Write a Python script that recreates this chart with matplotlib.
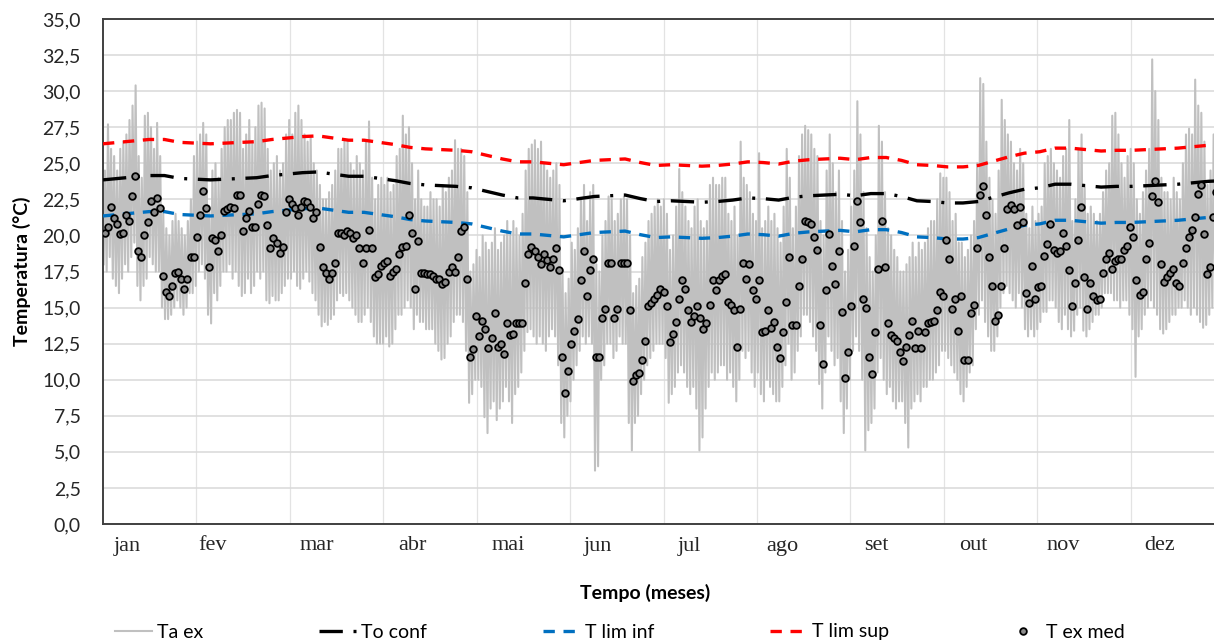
import numpy as np
import matplotlib
matplotlib.use("Agg")
from matplotlib import rcParams

rcParams['font.family'] = ['Lato', 'DejaVu Sans']
from matplotlib import pyplot as plt

# T ex med - daily mean outdoor temperature (one value per day)
t_ex_med = [
    # jan
    20.2, 20.6, 22.0, 21.2, 20.8, 20.1, 20.2, 21.4, 21.0, 22.7, 24.1, 18.9, 18.5, 20.0, 20.9,
    22.4, 21.6, 22.6, 21.9, 17.2, 16.1, 15.8, 16.5, 17.4, 17.5, 17.0, 16.3, 17.0, 18.5, 18.5,
    # feb / early mar
    19.9, 21.4, 23.1, 21.9, 17.8, 19.8, 19.7, 18.9, 20.0, 21.7, 21.8, 22.0, 21.9, 22.8, 22.8,
    20.3, 21.2, 21.7, 20.6, 20.6, 22.2, 22.8, 22.7, 20.7, 19.1, 19.8, 19.5, 18.8, 19.2, 21.6, 22.5,
    # mar - apr
    22.2, 21.9, 21.4, 22.0, 22.4, 22.3, 22.0, 21.2, 21.6, 19.2, 17.8, 17.4, 17.0, 17.4, 18.1,
    20.2, 20.2, 20.0, 20.3, 20.2, 19.8, 20.0, 19.1, 18.1, 19.1, 20.4, 19.1, 17.1, 17.3, 17.9,
    18.1, 18.2, 17.2, 17.5, 17.7, 18.7, 19.2, 19.3, 21.4, 20.2, 16.3, 19.6, 17.4, 17.4, 17.3,
    17.3, 17.2, 17.0, 17.0, 16.6, 16.8, 17.5, 17.8, 17.5, 18.5, 20.3, 20.6, 17.0, 11.6, 12.1, 14.4,
    # may - jun
    13.0, 14.1, 13.5, 12.2, 12.9, 14.6, 12.3, 12.5, 11.8, 13.9, 13.1, 13.2, 13.9, 13.9, 13.9,
    16.7, 18.7, 19.2, 18.9, 18.5, 18.0, 18.7, 18.3, 17.8, 18.4, 19.1, 17.6, 11.6, 9.05, 10.6,
    12.5, 13.4, 14.2, 16.9, 18.9, 15.8, 17.6, 18.4, 11.6, 11.6, 14.3, 14.9, 18.1, 18.1, 14.3,
    14.9, 18.1, 18.1, 18.1, 14.8, 9.9, 10.3, 10.5, 11.4, 12.7, 15.1, 15.3, 15.6, 15.9, 16.3, 16.1, 15.1,
    # jul - aug
    12.6, 13.2, 14.0, 15.6, 16.9, 16.3, 14.8, 14.0, 14.4, 15.1, 14.3, 13.5, 13.9, 15.2, 16.9,
    16.2, 16.9, 17.2, 17.3, 15.4, 15.2, 14.8, 12.3, 14.9, 18.1, 17.0, 18.0, 16.2, 15.6, 16.9,
    13.3, 13.4, 14.8, 13.6, 14.0, 12.3, 11.5, 13.3, 15.4, 18.5, 13.8, 13.8, 16.5, 18.4, 21.0,
    20.9, 20.8, 19.9, 19.0, 13.8, 11.1, 16.2, 20.1, 17.9, 16.6, 18.9, 14.7, 10.1, 11.9, 15.1, 19.3,
    # sep - oct
    22.4, 20.9, 15.6, 15.0, 11.6, 10.4, 13.3, 17.7, 21.0, 17.8, 13.9, 13.1, 12.9, 12.7, 11.9,
    11.3, 12.3, 13.1, 14.1, 12.2, 13.4, 12.2, 13.3, 13.9, 14.0, 14.1, 14.8, 16.1, 15.8, 19.7,
    18.4, 14.9, 15.6, 13.4, 15.8, 11.4, 11.4, 14.6, 15.2, 19.1, 22.8, 23.4, 21.4, 18.5, 16.5,
    14.1, 14.5, 16.5, 19.1, 21.8, 22.1, 21.8, 20.7, 22.0, 20.9, 16.0, 15.3, 17.9, 15.6, 16.4, 16.5,
    # nov - dec
    18.6, 19.4, 20.8, 19.0, 18.8, 18.9, 20.2, 19.3, 17.6, 15.1, 16.7, 19.7, 22.0, 17.1, 14.9,
    16.7, 15.8, 15.5, 15.6, 17.4, 18.4, 18.8, 17.7, 18.2, 18.4, 18.4, 19.0, 19.3, 20.6, 19.9,
    16.9, 15.9, 16.1, 18.4, 19.5, 22.7, 23.8, 22.3, 18.0, 16.8, 17.1, 17.4, 17.7, 16.7, 16.5,
    18.1, 19.1, 19.9, 20.4, 21.3, 22.9, 23.5, 20.1, 17.3, 17.8, 21.3, 23.0, 21.3, 19.5,
]

# Ta ex - hourly outdoor temperature, kept as daily maximum / minimum
ta_ex_max = [
    24.5, 27.7, 26.0, 25.5, 24.5, 26.0, 26.5, 27.0, 28.0, 29.0, 30.4, 25.5, 24.0, 28.3, 28.5,
    27.5, 26.0, 27.8, 25.5, 21.5, 20.5, 20.0, 21.0, 21.5, 21.0, 20.5, 20.0, 21.0, 22.5, 25.5, 26.5,
    27.0, 27.8, 27.0, 22.0, 24.5, 25.0, 24.0, 26.0, 27.5, 28.0, 28.0, 28.5, 28.7, 28.5, 26.0,
    27.0, 28.0, 26.5, 27.5, 29.0, 29.2, 28.8, 26.0, 24.5, 25.0, 25.5, 24.5, 25.0, 27.0, 28.0,
    27.0, 28.5, 29.0, 28.0, 27.0, 26.5, 26.8, 25.0, 24.5, 23.5, 22.5, 22.5, 23.0, 23.5, 24.5,
    26.0, 26.0, 26.5, 26.5, 25.0, 24.5, 25.5, 25.0, 24.5, 26.5, 27.9, 24.0, 22.5, 23.5, 24.0,
    23.5, 24.0, 23.0, 23.5, 25.5, 26.0, 28.3, 27.0, 27.5, 25.0, 22.5, 24.5, 22.5, 22.0, 22.0,
    23.0, 22.5, 22.5, 22.0, 23.5, 23.0, 24.0, 24.5, 26.6, 26.0, 26.0, 25.5, 23.0, 17.5, 18.0, 19.0,
    18.5, 20.0, 19.5, 19.0, 19.5, 20.5, 19.0, 19.5, 20.0, 21.0, 20.0, 21.0, 20.5, 20.0, 21.5,
    24.5, 26.0, 26.3, 26.6, 26.0, 26.5, 25.0, 24.5, 24.0, 24.5, 25.0, 23.5, 17.5, 16.0, 17.0,
    19.5, 19.0, 20.5, 22.5, 23.5, 21.0, 23.0, 23.5, 18.0, 17.5, 20.0, 21.0, 22.7, 22.5, 21.0,
    21.5, 22.5, 22.7, 22.5, 20.0, 16.0, 16.5, 17.0, 18.5, 19.5, 21.0, 21.5, 22.0, 22.5, 22.0, 22.5, 21.5,
    19.0, 20.0, 22.0, 24.6, 23.0, 22.0, 21.0, 20.5, 22.0, 22.5, 21.0, 20.5, 21.0, 23.5, 24.0,
    23.5, 23.5, 24.0, 24.0, 21.5, 21.0, 22.0, 20.0, 26.5, 24.0, 23.5, 23.0, 21.5, 21.0, 25.7,
    20.5, 21.0, 22.0, 21.0, 21.5, 20.5, 19.5, 22.0, 26.0, 24.0, 20.5, 22.0, 25.5, 27.0, 27.6,
    27.3, 27.0, 26.0, 25.5, 21.0, 20.0, 24.5, 27.0, 25.0, 23.0, 24.5, 21.0, 17.5, 19.0, 22.0, 24.5,
    29.3, 27.0, 23.0, 20.5, 18.5, 17.5, 20.0, 27.6, 26.5, 23.0, 20.5, 20.0, 19.0, 18.5, 17.5,
    17.5, 18.0, 18.5, 19.5, 18.5, 19.5, 19.0, 19.5, 20.5, 21.0, 21.0, 22.5, 24.3, 24.0, 24.0,
    23.0, 21.0, 21.5, 19.5, 19.5, 18.5, 19.0, 20.0, 21.0, 25.0, 30.9, 30.5, 26.5, 24.0, 22.5,
    21.5, 24.5, 29.4, 28.0, 27.0, 26.5, 25.0, 24.5, 26.0, 25.0, 21.5, 20.5, 22.0, 21.0, 21.5, 22.0,
    25.0, 25.5, 26.0, 25.0, 24.5, 24.0, 25.5, 26.0, 28.0, 21.0, 22.5, 26.0, 27.0, 23.5, 21.5,
    22.0, 21.5, 21.0, 21.5, 23.0, 24.5, 25.0, 28.3, 28.5, 27.0, 25.0, 24.0, 25.5, 26.0, 25.0,
    22.5, 21.5, 23.0, 24.5, 26.0, 32.2, 30.0, 28.0, 24.0, 23.0, 23.0, 22.5, 24.0, 23.0, 22.5,
    25.0, 27.0, 27.4, 27.0, 30.8, 29.0, 28.5, 26.5, 23.5, 24.5, 27.0, 29.0, 31.0, 27.0,
]
ta_ex_min = [
    18.0, 17.5, 18.5, 17.0, 16.5, 16.0, 17.0, 18.0, 17.5, 18.5, 19.5, 16.5, 15.5, 16.5, 17.0,
    18.5, 18.0, 17.5, 17.5, 15.0, 14.2, 14.2, 14.5, 15.0, 15.5, 15.0, 14.5, 15.0, 16.0, 16.0, 16.5,
    17.5, 18.0, 17.0, 14.5, 13.9, 16.0, 15.5, 16.5, 17.5, 17.5, 18.0, 17.0, 17.5, 16.5, 15.8,
    16.0, 17.0, 16.0, 16.5, 17.5, 17.0, 17.5, 15.5, 15.3, 15.8, 15.5, 15.5, 16.0, 16.5, 17.0,
    17.0, 17.5, 16.5, 16.3, 17.0, 17.5, 16.8, 16.0, 15.5, 14.5, 13.7, 14.0, 13.8, 14.2, 14.5,
    15.5, 16.0, 15.8, 16.0, 15.5, 15.0, 14.5, 14.0, 14.0, 14.5, 15.0, 14.0, 13.0, 12.5, 12.5,
    12.5, 13.0, 12.3, 12.5, 13.5, 14.5, 14.5, 15.0, 15.5, 15.0, 13.5, 14.5, 14.0, 14.0, 13.5,
    13.5, 13.5, 12.5, 12.0, 11.4, 11.5, 12.5, 13.0, 14.0, 14.5, 14.5, 14.0, 12.0, 8.4, 9.0, 10.0,
    10.0, 9.5, 7.4, 6.3, 8.0, 8.5, 7.2, 8.0, 8.5, 9.5, 8.5, 7.0, 9.0, 9.5, 10.5,
    12.0, 13.3, 13.5, 13.0, 12.5, 13.0, 12.5, 12.0, 13.0, 13.5, 13.0, 11.0, 7.0, 6.0, 7.5,
    8.5, 10.0, 11.0, 12.0, 13.0, 12.5, 13.0, 12.5, 3.7, 4.0, 10.0, 11.0, 12.5, 12.5, 11.5,
    12.0, 13.0, 12.5, 12.5, 7.0, 5.1, 7.0, 7.5, 9.0, 10.0, 11.0, 11.5, 12.0, 12.5, 12.5, 12.5, 11.5,
    8.4, 9.0, 9.5, 10.5, 11.0, 10.5, 9.5, 9.0, 9.5, 8.0, 5.1, 6.0, 8.0, 9.5, 10.5,
    10.0, 10.5, 11.0, 11.0, 10.0, 10.5, 9.5, 8.5, 10.0, 12.0, 11.5, 12.0, 10.5, 9.5, 10.5,
    9.0, 8.5, 10.0, 9.5, 9.0, 8.5, 8.5, 9.5, 11.0, 12.5, 10.0, 10.5, 12.0, 13.0, 14.5,
    14.5, 14.0, 13.0, 12.0, 9.7, 8.0, 10.5, 13.0, 12.0, 11.0, 11.5, 8.5, 6.3, 8.0, 10.0, 12.0,
    13.0, 12.0, 10.0, 5.1, 6.5, 7.0, 8.0, 10.5, 11.5, 10.0, 9.0, 9.5, 8.5, 8.0, 8.5,
    8.5, 7.0, 5.3, 8.0, 8.5, 9.0, 8.5, 9.5, 9.5, 10.0, 10.0, 10.5, 11.0, 12.0, 12.0,
    11.5, 11.0, 10.5, 10.0, 9.0, 8.5, 9.5, 10.5, 11.0, 13.5, 14.5, 15.5, 14.0, 13.0, 12.0,
    12.0, 13.0, 15.0, 16.0, 16.5, 16.0, 15.5, 15.0, 16.0, 15.0, 13.5, 13.0, 13.5, 13.0, 13.5, 14.0,
    14.7, 14.7, 15.5, 15.5, 15.0, 14.0, 13.5, 14.5, 13.5, 13.0, 13.4, 14.5, 15.0, 13.4, 13.0,
    13.5, 14.0, 14.5, 14.5, 15.0, 16.0, 16.0, 16.0, 15.5, 15.5, 15.0, 15.5, 15.5, 14.5, 13.5,
    10.2, 13.0, 13.5, 14.5, 15.0, 15.5, 15.0, 14.5, 13.5, 13.2, 13.5, 14.0, 14.5, 14.5, 15.0,
    15.0, 15.5, 15.0, 14.5, 15.0, 14.5, 14.0, 13.6, 13.8, 14.5, 15.0, 15.5, 15.0, 14.5,
]

# comfort curves, read every 5 days
curve_days = list(range(0, 366, 5))
t_lim_sup = [
    26.35, 26.45, 26.55, 26.65, 26.65, 26.45, 26.4, 26.35, 26.4, 26.45,
    26.5, 26.65, 26.75, 26.85, 26.9, 26.75, 26.6, 26.6, 26.45, 26.3,
    26.1, 26.0, 25.95, 25.9, 25.8, 25.55, 25.3, 25.1, 25.1, 25.0,
    24.9, 25.05, 25.2, 25.25, 25.3, 25.05, 24.85, 24.9, 24.85, 24.8,
    24.85, 24.95, 25.1, 25.05, 24.95, 25.15, 25.25, 25.3, 25.35, 25.25,
    25.4, 25.4, 25.2, 24.9, 24.85, 24.75, 24.75, 24.85, 25.15, 25.45,
    25.7, 25.8, 26.05, 26.05, 25.95, 25.85, 25.9, 25.9, 25.95, 26.0,
    26.05, 26.15, 26.25, 26.3,
]
to_conf = [
    23.85, 23.95, 24.05, 24.15, 24.15, 23.95, 23.9, 23.85, 23.9, 23.95,
    24.0, 24.15, 24.25, 24.35, 24.4, 24.25, 24.1, 24.1, 23.95, 23.8,
    23.6, 23.5, 23.45, 23.4, 23.3, 23.05, 22.8, 22.6, 22.6, 22.5,
    22.4, 22.55, 22.7, 22.75, 22.8, 22.55, 22.35, 22.4, 22.35, 22.3,
    22.35, 22.45, 22.6, 22.55, 22.45, 22.65, 22.75, 22.8, 22.85, 22.75,
    22.9, 22.9, 22.7, 22.4, 22.35, 22.25, 22.25, 22.35, 22.65, 22.95,
    23.2, 23.3, 23.55, 23.55, 23.45, 23.35, 23.4, 23.4, 23.45, 23.5,
    23.55, 23.65, 23.75, 23.8,
]
t_lim_inf = [
    21.35, 21.45, 21.55, 21.65, 21.65, 21.45, 21.4, 21.35, 21.4, 21.45,
    21.5, 21.65, 21.75, 21.85, 21.9, 21.75, 21.6, 21.6, 21.45, 21.3,
    21.1, 21.0, 20.95, 20.9, 20.8, 20.55, 20.3, 20.1, 20.1, 20.0,
    19.9, 20.05, 20.2, 20.25, 20.3, 20.05, 19.85, 19.9, 19.85, 19.8,
    19.85, 19.95, 20.1, 20.05, 19.95, 20.15, 20.25, 20.3, 20.35, 20.25,
    20.4, 20.4, 20.2, 19.9, 19.85, 19.75, 19.75, 19.85, 20.15, 20.45,
    20.7, 20.8, 21.05, 21.05, 20.95, 20.85, 20.9, 20.9, 20.95, 21.0,
    21.05, 21.15, 21.25, 21.3,
]

months = ["jan", "fev", "mar", "abr", "mai", "jun", "jul", "ago", "set", "out", "nov", "dez"]
month_label_days = [7.8, 35.8, 69.7, 100.9, 131.9, 161.2, 190.8, 221.1, 251.7, 283.3, 312.6, 344.1]


def main():
    W, H = 1214, 640
    fig = plt.figure(figsize=(W / 100, H / 100), dpi=100)
    # plot area runs a little past the right edge of the picture (cropped)
    ax = fig.add_axes([103 / W, (H - 524) / H, 1121 / W, 505 / H])

    n = min(len(ta_ex_max), len(ta_ex_min))
    days = np.arange(n)
    xs = np.column_stack([days + 0.2, days + 0.62]).ravel()
    ys = np.column_stack([ta_ex_min[:n], ta_ex_max[:n]]).ravel()
    ax.plot(xs, ys, color='#C0C0C0', lw=1.5, label='Ta ex', zorder=2)

    ax.plot(curve_days, to_conf, color='black', lw=2.4, dashes=(7, 3.2, 0.9, 3.2),
            label='To conf', zorder=3)
    ax.plot(curve_days, t_lim_inf, color='#0070C0', lw=2.4, dashes=(3.4, 2.6),
            label='T lim inf', zorder=3)
    ax.plot(curve_days, t_lim_sup, color='#FF0000', lw=2.4, dashes=(3.4, 2.6),
            label='T lim sup', zorder=3)
    ax.plot(np.arange(len(t_ex_med)) + 0.5, t_ex_med, ls='none', marker='o', ms=4.8,
            mew=1.3, mec='black', mfc='#8C8C8C', label='T ex med', zorder=4)

    ax.set_xlim(0, 365)
    ax.set_ylim(0, 35)
    yt = np.arange(0, 35.01, 2.5)
    ax.set_yticks(yt)
    ax.set_yticklabels([f"{v:.1f}".replace('.', ',') for v in yt], fontsize=14, color='#262626')
    ax.set_xticks(month_label_days)
    ax.set_xticklabels(months, fontsize=16, family='Liberation Serif', color='#262626')
    ax.set_xticks(np.arange(1, 13) * 365 / 12, minor=True)
    ax.tick_params(axis='both', which='both', length=0)
    ax.tick_params(axis='y', pad=16)
    ax.tick_params(axis='x', pad=9)

    ax.grid(axis='y', which='major', color='#D9D9D9', lw=1.1, zorder=0)
    ax.grid(axis='x', which='minor', color='#E3E3E3', lw=0.9, zorder=0)
    ax.grid(axis='x', which='major', visible=False)
    ax.set_axisbelow(True)
    for s in ['left', 'bottom', 'top']:
        ax.spines[s].set_color('#404040')
        ax.spines[s].set_linewidth(1.4)
    ax.spines['right'].set_visible(False)

    ax.set_ylabel("Temperatura (°C)", fontsize=14, fontweight='bold', color='black')
    ax.yaxis.set_label_coords(-0.072, 0.5)
    ax.yaxis.label.set_verticalalignment('center')
    ax.set_xlabel("Tempo (meses)", fontsize=14, fontweight='bold', color='black')
    ax.xaxis.set_label_coords(0.4835, -0.137)
    ax.xaxis.label.set_verticalalignment('center')

    fig.legend(loc='center left', bbox_to_anchor=(115 / W, 1 - 632 / H), ncol=5, frameon=False,
               fontsize=14, handlelength=1.9, handletextpad=0.26, columnspacing=5.95,
               borderpad=0, borderaxespad=0)

    fig.savefig("out.png", dpi=100)


if __name__ == "__main__":
    main()
